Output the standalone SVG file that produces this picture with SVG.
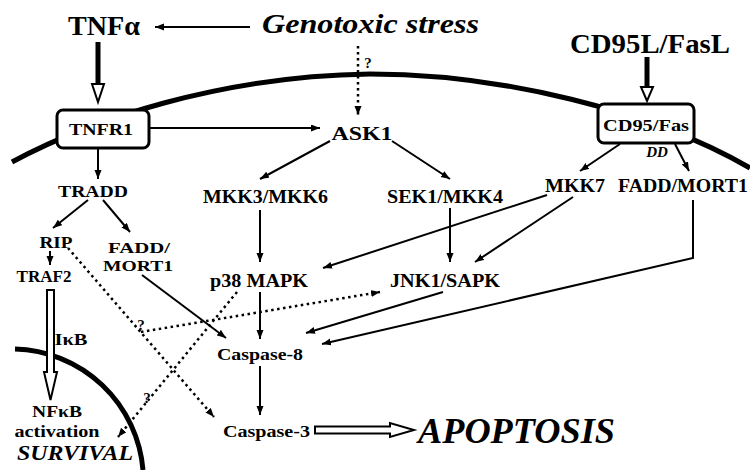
<svg xmlns="http://www.w3.org/2000/svg" width="750" height="470" viewBox="0 0 750 470">
<defs>
<style>
text{font-family:"Liberation Serif","DejaVu Serif",serif;font-weight:700;fill:#000}
.it{font-style:italic}
.ln{fill:none;stroke:#000;stroke-width:2}
.dt{fill:none;stroke:#000;stroke-width:2.5;stroke-dasharray:2.5 3.5}
.mem{fill:none;stroke:#000;stroke-width:5}
.box{fill:#fff;stroke:#000;stroke-width:3}
.hol{fill:#fff;stroke:#000;stroke-width:2}
</style>
<marker id="ah" markerUnits="userSpaceOnUse" markerWidth="10" markerHeight="8" refX="9" refY="3.5" orient="auto">
<path d="M0,0 L9,3.5 L0,7 z" fill="#000"/>
</marker>
</defs>
<rect width="750" height="470" fill="#fff"/>
<g id="membranes">
<path class="mem" d="M12,162 C90,120 220,76 370,74 C500,74 650,110 750,168"/>
<path class="mem" d="M15,349 A132 132 0 0 1 143,470"/>
</g>
<g id="connectors">
<line class="ln" x1="250" y1="27" x2="155" y2="27" marker-end="url(#ah)"/>
<rect x="95.5" y="42" width="5" height="44" fill="#000"/>
<path class="hol" d="M92,84 L104,84 L98,102 Z"/>
<rect x="644.5" y="57" width="5" height="32" fill="#000"/>
<path class="hol" d="M641,87 L653,87 L647,101 Z"/>
<line class="dt" x1="358" y1="46" x2="358" y2="115" marker-end="url(#ah)"/>
<line class="ln" x1="149" y1="128" x2="320" y2="128" marker-end="url(#ah)"/>
<line class="ln" x1="98" y1="149" x2="98" y2="179" marker-end="url(#ah)"/>
<line class="ln" x1="88" y1="200" x2="53" y2="228" marker-end="url(#ah)"/>
<line class="ln" x1="103" y1="200" x2="130" y2="232" marker-end="url(#ah)"/>
<line class="ln" x1="50" y1="251" x2="50" y2="265" marker-end="url(#ah)"/>
<path class="hol" d="M47,290 L47,372 L44,372 L50.5,400 L57,372 L54,372 L54,290 Z"/>
<line class="ln" x1="330" y1="141" x2="260" y2="179" marker-end="url(#ah)"/>
<line class="ln" x1="392" y1="141" x2="450" y2="179" marker-end="url(#ah)"/>
<line class="ln" x1="620" y1="144" x2="580" y2="171" marker-end="url(#ah)"/>
<line class="ln" x1="675" y1="144" x2="689" y2="171" marker-end="url(#ah)"/>
<line class="ln" x1="260" y1="210" x2="260" y2="262" marker-end="url(#ah)"/>
<line class="ln" x1="450" y1="208" x2="450" y2="262" marker-end="url(#ah)"/>
<line class="ln" x1="547" y1="195" x2="323" y2="268" marker-end="url(#ah)"/>
<line class="ln" x1="573" y1="197" x2="475" y2="262" marker-end="url(#ah)"/>
<polyline class="ln" points="693,200 693,258 322,344" marker-end="url(#ah)"/>
<line class="ln" x1="443" y1="292" x2="306" y2="333" marker-end="url(#ah)"/>
<line class="ln" x1="260" y1="292" x2="260" y2="339" marker-end="url(#ah)"/>
<line class="ln" x1="142" y1="275" x2="226" y2="338" marker-end="url(#ah)"/>
<line class="ln" x1="260" y1="366" x2="260" y2="415" marker-end="url(#ah)"/>
<line class="dt" x1="68" y1="248" x2="214" y2="417" marker-end="url(#ah)"/>
<line class="dt" x1="237" y1="292" x2="118" y2="437" marker-end="url(#ah)"/>
<line class="dt" x1="141" y1="332" x2="380" y2="292" marker-end="url(#ah)"/>
<path class="hol" d="M315,426.5 L390,426.5 L390,423 L414,430 L390,437 L390,433.5 L315,433.5 Z"/>
</g>
<g id="genotoxic"><text x="262" y="33" font-size="28" class="it" textLength="217" lengthAdjust="spacingAndGlyphs">Genotoxic stress</text></g>
<g id="tnfa"><text x="104" y="35" font-size="27" text-anchor="middle" textLength="72" lengthAdjust="spacingAndGlyphs">TNFα</text></g>
<g id="cd95l"><text x="570" y="53" font-size="28" textLength="160" lengthAdjust="spacingAndGlyphs">CD95L/FasL</text></g>
<g id="tnfr1"><rect class="box" x="57" y="110" width="92" height="38" rx="6"/><text x="101" y="135" font-size="16" text-anchor="middle" textLength="64" lengthAdjust="spacingAndGlyphs">TNFR1</text></g>
<g id="ask1"><text x="362" y="140" font-size="19" text-anchor="middle" textLength="61" lengthAdjust="spacingAndGlyphs">ASK1</text></g>
<g id="cd95"><rect class="box" x="598" y="104" width="96" height="39" rx="6"/><text x="646" y="131" font-size="17" text-anchor="middle" textLength="86" lengthAdjust="spacingAndGlyphs">CD95/Fas</text></g>
<g id="dd"><text x="657" y="157" font-size="15" class="it" text-anchor="middle">DD</text></g>
<g id="tradd"><text x="93" y="197" font-size="17" text-anchor="middle" textLength="70" lengthAdjust="spacingAndGlyphs">TRADD</text></g>
<g id="rip"><text x="56" y="248" font-size="17" text-anchor="middle" textLength="33" lengthAdjust="spacingAndGlyphs">RIP</text></g>
<g id="fadd1"><text x="139" y="253" font-size="15" text-anchor="middle" textLength="62" lengthAdjust="spacingAndGlyphs">FADD/</text><text x="138" y="271" font-size="15" text-anchor="middle" textLength="70" lengthAdjust="spacingAndGlyphs">MORT1</text></g>
<g id="traf2"><text x="44" y="282" font-size="17" text-anchor="middle" textLength="55" lengthAdjust="spacingAndGlyphs">TRAF2</text></g>
<g id="ikb"><text x="71" y="345" font-size="16" text-anchor="middle" textLength="33" lengthAdjust="spacingAndGlyphs">IκB</text></g>
<g id="nfkb"><text x="57" y="417" font-size="16" text-anchor="middle" textLength="50" lengthAdjust="spacingAndGlyphs">NFκB</text><text x="57" y="437" font-size="16" text-anchor="middle" textLength="85" lengthAdjust="spacingAndGlyphs">activation</text></g>
<g id="survival"><text x="17" y="460" font-size="20" class="it" textLength="116" lengthAdjust="spacingAndGlyphs">SURVIVAL</text></g>
<g id="mkk36"><text x="203" y="203" font-size="18" textLength="125" lengthAdjust="spacingAndGlyphs">MKK3/MKK6</text></g>
<g id="sek1"><text x="387" y="203" font-size="18" textLength="116" lengthAdjust="spacingAndGlyphs">SEK1/MKK4</text></g>
<g id="mkk7"><text x="545" y="192" font-size="18" textLength="60" lengthAdjust="spacingAndGlyphs">MKK7</text></g>
<g id="fadd2"><text x="618" y="192" font-size="18" textLength="130" lengthAdjust="spacingAndGlyphs">FADD/MORT1</text></g>
<g id="p38"><text x="210" y="287" font-size="18" textLength="98" lengthAdjust="spacingAndGlyphs">p38 MAPK</text></g>
<g id="jnk1"><text x="390" y="287" font-size="18" textLength="110" lengthAdjust="spacingAndGlyphs">JNK1/SAPK</text></g>
<g id="casp8"><text x="217" y="360" font-size="16" textLength="86" lengthAdjust="spacingAndGlyphs">Caspase-8</text></g>
<g id="casp3"><text x="223" y="437" font-size="16" textLength="87" lengthAdjust="spacingAndGlyphs">Caspase-3</text></g>
<g id="apoptosis"><text x="418" y="443" font-size="36" class="it" textLength="197" lengthAdjust="spacingAndGlyphs">APOPTOSIS</text></g>
<g id="q1"><text x="368" y="68" font-size="15" text-anchor="middle">?</text></g>
<g id="q2"><text x="141" y="330" font-size="15" text-anchor="middle">?</text></g>
<g id="q3"><text x="147" y="403" font-size="15" text-anchor="middle">?</text></g>
</svg>
